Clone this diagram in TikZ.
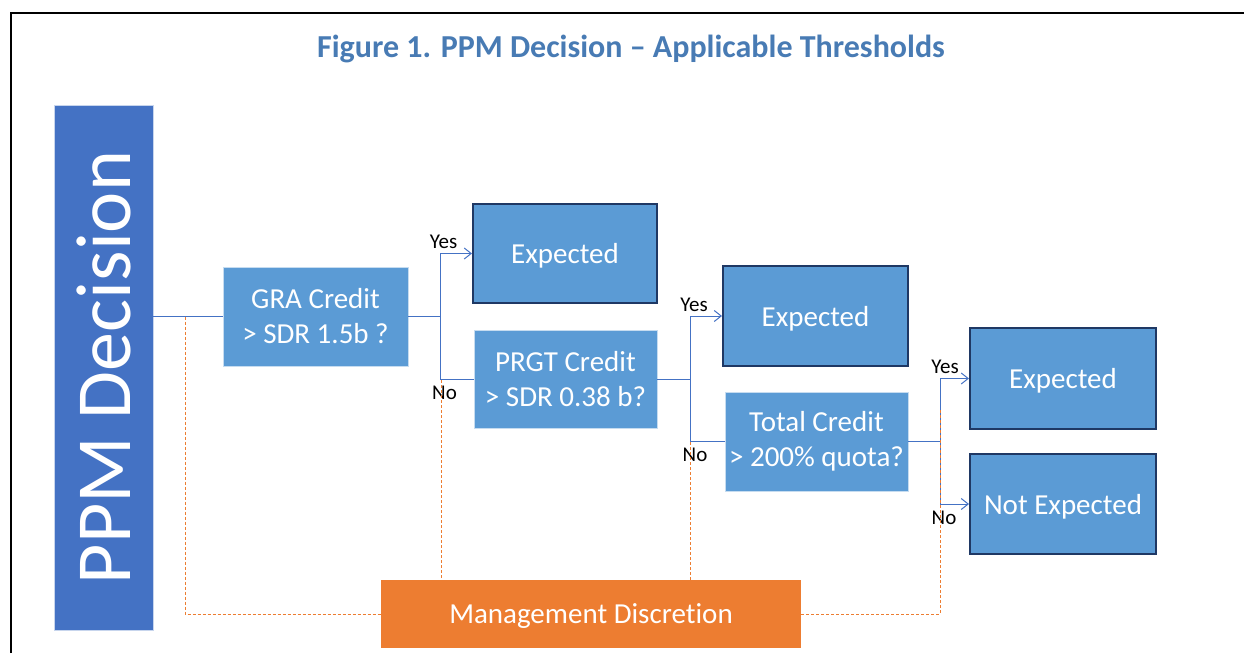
\documentclass[tikz,border=0pt]{standalone}
\usepackage{fontspec}
\setmainfont{Carlito}[Ligatures=NoCommon]
\usetikzlibrary{arrows.meta}
\definecolor{ppmblue}{HTML}{4472C4}
\definecolor{boxblue}{HTML}{5B9BD5}
\definecolor{navyline}{HTML}{1F3864}
\definecolor{mgmtorange}{HTML}{ED7D31}
\definecolor{titleblue}{RGB}{72,123,180}
\definecolor{linkblue}{HTML}{4472C4}
\begin{document}
\begin{tikzpicture}[x=1pt,y=-1pt,
  qbox/.style={draw=white!65!boxblue, line width=0.8pt, fill=boxblue, text=white, align=center,
    inner sep=0pt, minimum width=184pt, minimum height=99pt, font=\fontsize{29}{35}\selectfont},
  outbox/.style={draw=navyline, line width=2pt, fill=boxblue, text=white, inner sep=0pt,
    text depth=0pt, minimum width=185pt, minimum height=99pt, font=\fontsize{29}{35}\selectfont},
  link/.style={draw=linkblue, line width=1pt},
  arr/.style={link, -{Straight Barb[length=7pt,width=11pt,line width=1pt]}},
  yn/.style={font=\fontsize{21}{21}\selectfont, text=black, inner sep=0pt},
  disc/.style={draw=mgmtorange, line width=1pt, dash pattern=on 3pt off 2pt}
]
\useasboundingbox (0,0) rectangle (1244,653);
% frame
\draw[line width=2pt] (10.5,653) -- (10.5,12.5) -- (1244,12.5);
% title
\node[text=titleblue, font=\bfseries\fontsize{32}{32}\selectfont, anchor=base] (title) at (631,57)
  {Figure 1. PPM Decision – Applicable Thresholds};
% nodes
\node[rotate=90, draw=white!70!ppmblue, line width=0.8pt, fill=ppmblue, text=white, inner sep=0pt,
  minimum width=525pt, minimum height=99pt, font=\fontsize{78}{78}\selectfont] (ppm) at (103.5,367.5) {PPM Decision};
\node[qbox, minimum width=185pt] (gra) at (315.5,316.5) {GRA Credit\\> SDR 1.5b ?};
\node[outbox, minimum width=184pt] (exp1) at (565,253.5) {Expected};
\node[qbox, minimum width=183pt, minimum height=98pt] (prgt) at (565.5,379) {PRGT Credit\\> SDR 0.38 b?};
\node[outbox, minimum height=100pt] (exp2) at (815.5,316) {Expected};
\node[qbox, minimum width=183pt] (total) at (816.5,441.5) {Total Credit\\> 200\% quota?};
\node[outbox, minimum width=186pt, minimum height=101pt] (exp3) at (1063,378.5) {Expected};
\node[outbox, minimum width=186pt, minimum height=100pt] (notexp) at (1063,504) {Not Expected};
\node[fill=mgmtorange, text=white, inner sep=0pt, text depth=0pt, minimum width=420pt, minimum height=68pt,
  font=\fontsize{29}{35}\selectfont] (mgmt) at (591,614) {Management Discretion};
% branch points
\coordinate (b1) at (440,316.5);
\coordinate (b2) at (690,379);
\coordinate (b3) at (940,441.5);
\coordinate (d0) at (185,316.5);
% connectors
\draw[link] (ppm.south |- gra.west) -- (gra.west);
\draw[link] (gra.east) -- (b1);
\draw[arr] (b1) |- (exp1.west);
\draw[link] (b1) |- (prgt.west);
\draw[link] (prgt.east) -- (b2);
\draw[arr] (b2) |- (exp2.west);
\draw[link] (b2) |- (total.west);
\draw[link] (total.east) -- (b3);
\draw[arr] (b3) |- (exp3.west);
\draw[arr] (b3) |- (notexp.west);
% labels
\node[yn] (yes1) at (443.5,242) {Yes};
\node[yn] (no1) at (444.5,393) {No};
\node[yn] (yes2) at (694,305) {Yes};
\node[yn] (no2) at (695,455) {No};
\node[yn] (yes3) at (945,367) {Yes};
\node[yn] (no3) at (944,518) {No};
% management discretion links
\coordinate (n1) at (441,380);
\coordinate (n2) at (690,442);
\coordinate (n3) at (940,410);
\draw[disc] (d0) |- (mgmt.west);
\draw[disc] (n1) -- (n1 |- mgmt.north);
\draw[disc] (n2) -- (n2 |- mgmt.north);
\draw[disc] (mgmt.east) -| (n3);
\end{tikzpicture}
\end{document}
